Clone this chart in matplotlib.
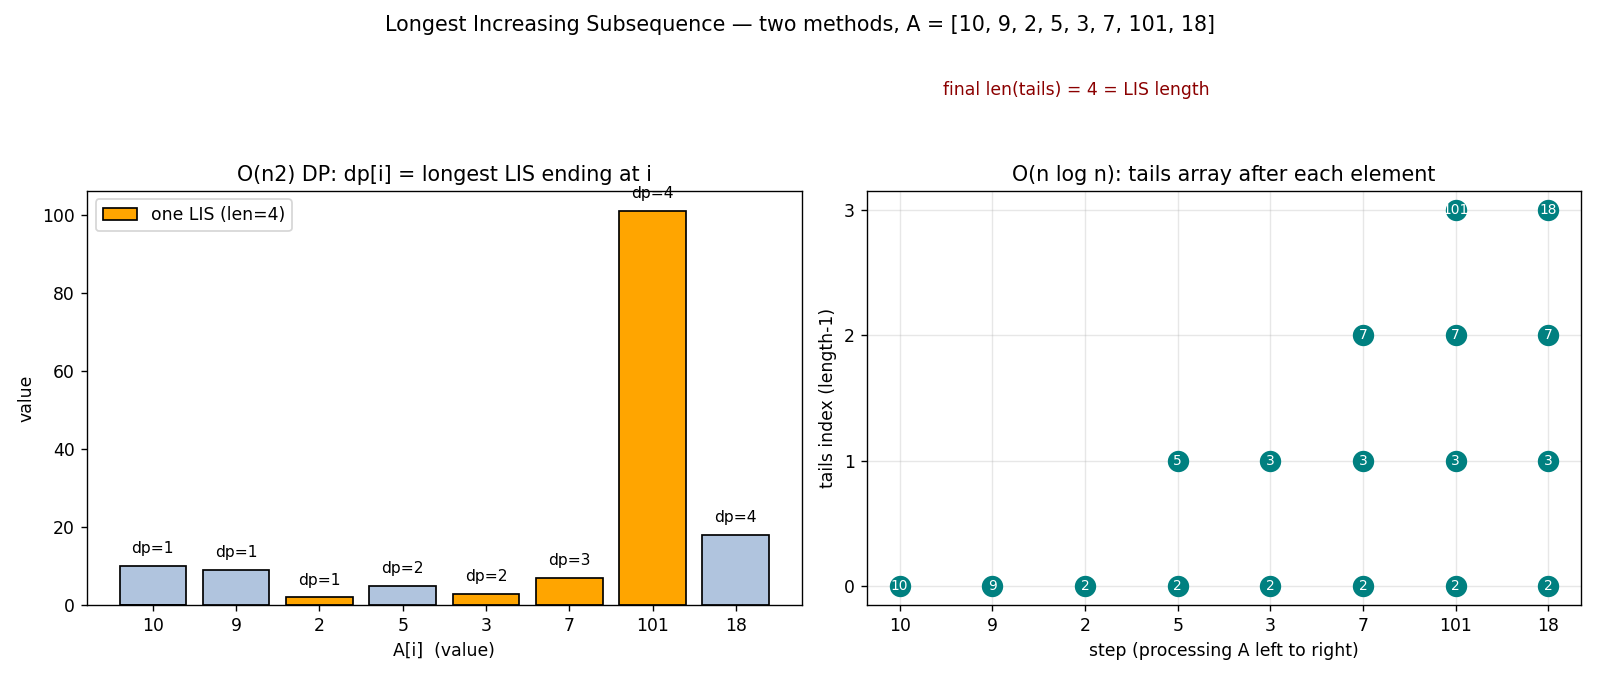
import matplotlib
matplotlib.use("Agg")
import matplotlib.pyplot as plt
import numpy as np

# data
A = [10, 9, 2, 5, 3, 7, 101, 18]
dp = [1, 1, 1, 2, 2, 3, 4, 4]
lis_idx = [2, 4, 5, 6]          # indices of one LIS: 2, 3, 7, 101
tails_steps = [
    [10],
    [9],
    [2],
    [2, 5],
    [2, 3],
    [2, 3, 7],
    [2, 3, 7, 101],
    [2, 3, 7, 18],
]

fig = plt.figure(figsize=(12.903, 5.46), dpi=124)
ax1 = fig.add_axes([0.0544, 0.106, 0.4466, 0.612])
ax2 = fig.add_axes([0.542, 0.106, 0.446, 0.612])

# left: O(n^2) dp bars
x = np.arange(len(A))
colors = ['orange' if i in lis_idx else 'lightsteelblue' for i in range(len(A))]
ax1.bar(x, A, color=colors, edgecolor='black')
for i in range(len(A)):
    ax1.text(x[i], A[i] + 2.5, f"dp={dp[i]}", ha='center', va='bottom', fontsize=9)
ax1.set_xticks(x)
ax1.set_xticklabels([str(v) for v in A])
ax1.set_xlabel("A[i]  (value)")
ax1.set_ylabel("value")
ax1.set_title("O(n2) DP: dp[i] = longest LIS ending at i")
ax1.bar([0], [0], color='orange', edgecolor='black', label="one LIS (len=4)")
ax1.legend(loc='upper left')

# right: tails array after each step
for step, tails in enumerate(tails_steps):
    for k, v in enumerate(tails):
        ax2.scatter(step, k, s=130, color='teal', zorder=3)
        ax2.text(step, k, str(v), color='white', fontsize=8, ha='center', va='center', zorder=4)
ax2.set_xticks(x)
ax2.set_xticklabels([str(v) for v in A])
ax2.set_yticks([0, 1, 2, 3])
ax2.set_xlabel("step (processing A left to right)")
ax2.set_ylabel("tails index (length-1)")
ax2.set_title("O(n log n): tails array after each element")
ax2.grid(True, alpha=0.3)

fig.text(0.673, 0.867, f"final len(tails) = {len(tails_steps[-1])} = LIS length",
         color='darkred', ha='center', va='center', fontsize=10)
fig.suptitle("Longest Increasing Subsequence \u2014 two methods, A = [10, 9, 2, 5, 3, 7, 101, 18]",
             fontsize=12, y=0.978)

fig.savefig("out.png", dpi=124)
